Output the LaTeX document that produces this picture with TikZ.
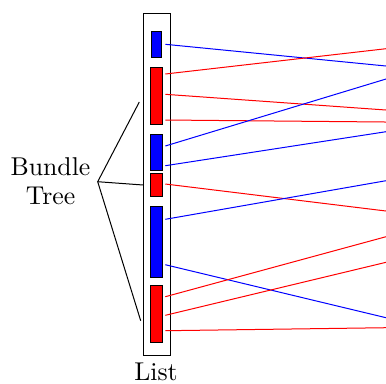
\documentclass[tikz,border=0pt]{standalone}
\begin{document}
\begin{tikzpicture}[x=0.4pt,y=-0.4pt,
  bar/.style={draw=black,line width=0.4pt},
  wire/.style={line width=0.4pt},
  lbl/.style={inner sep=0pt,font=\fontsize{10.3}{11.8}\selectfont}]
\useasboundingbox (0,0) rectangle (386,383);
% outer list box
\draw[line width=0.4pt] (143.3,13.3) rectangle (170.3,355);
\coordinate (boxw) at (143.3,185);
% bars
\draw[bar,fill=blue] (151,31.7) rectangle (161,57.7);
\draw[bar,fill=red]  (150.3,67.3) rectangle (162,124);
\draw[bar,fill=blue] (150.3,134.3) rectangle (162,170);
\draw[bar,fill=red]  (150.3,173.3) rectangle (162,196);
\draw[bar,fill=blue] (150.3,206) rectangle (162,277.7);
\draw[bar,fill=red]  (150.3,285.7) rectangle (162,342.7);
% left ends
\coordinate (l1) at (165.3,44.3);
\coordinate (l2) at (165.3,74);
\coordinate (l3) at (165.3,94.3);
\coordinate (l4) at (165.3,120);
\coordinate (l5) at (165.3,146);
\coordinate (l6) at (165.3,165.7);
\coordinate (l7) at (165.3,184);
\coordinate (l8) at (165.3,219.3);
\coordinate (l9) at (165.3,264.7);
\coordinate (l10) at (165.3,296.7);
\coordinate (l11) at (165.3,315.3);
\coordinate (l12) at (165.3,330.7);
% right ends
\coordinate (r1) at (386,66);
\coordinate (r2) at (386,48.7);
\coordinate (r3) at (386,110);
\coordinate (r4) at (386,122);
\coordinate (r5) at (386,79);
\coordinate (r6) at (386,131.7);
\coordinate (r7) at (386,211);
\coordinate (r8) at (386,180.7);
\coordinate (r9) at (386,317.7);
\coordinate (r10) at (386,236.7);
\coordinate (r11) at (386,262.3);
\coordinate (r12) at (386,327.7);
\draw[wire,blue] (l1) -- (r1);
\draw[wire,red]  (l2) -- (r2);
\draw[wire,red]  (l3) -- (r3);
\draw[wire,red]  (l4) -- (r4);
\draw[wire,blue] (l5) -- (r5);
\draw[wire,blue] (l6) -- (r6);
\draw[wire,red]  (l7) -- (r7);
\draw[wire,blue] (l8) -- (r8);
\draw[wire,blue] (l9) -- (r9);
\draw[wire,red]  (l10) -- (r10);
\draw[wire,red]  (l11) -- (r11);
\draw[wire,red]  (l12) -- (r12);
% tree
\coordinate (apex) at (97.7,181.7);
\coordinate (t1) at (139.3,102);
\coordinate (t3) at (140.7,320.7);
\draw[wire] (t1) -- (apex) -- (t3);
\draw[wire] (apex) -- (boxw);
\node[lbl,align=center] (bt) at (50.5,181) {Bundle\\Tree};
\node[lbl,anchor=base] (list) at (156,380) {List};
\end{tikzpicture}
\end{document}
